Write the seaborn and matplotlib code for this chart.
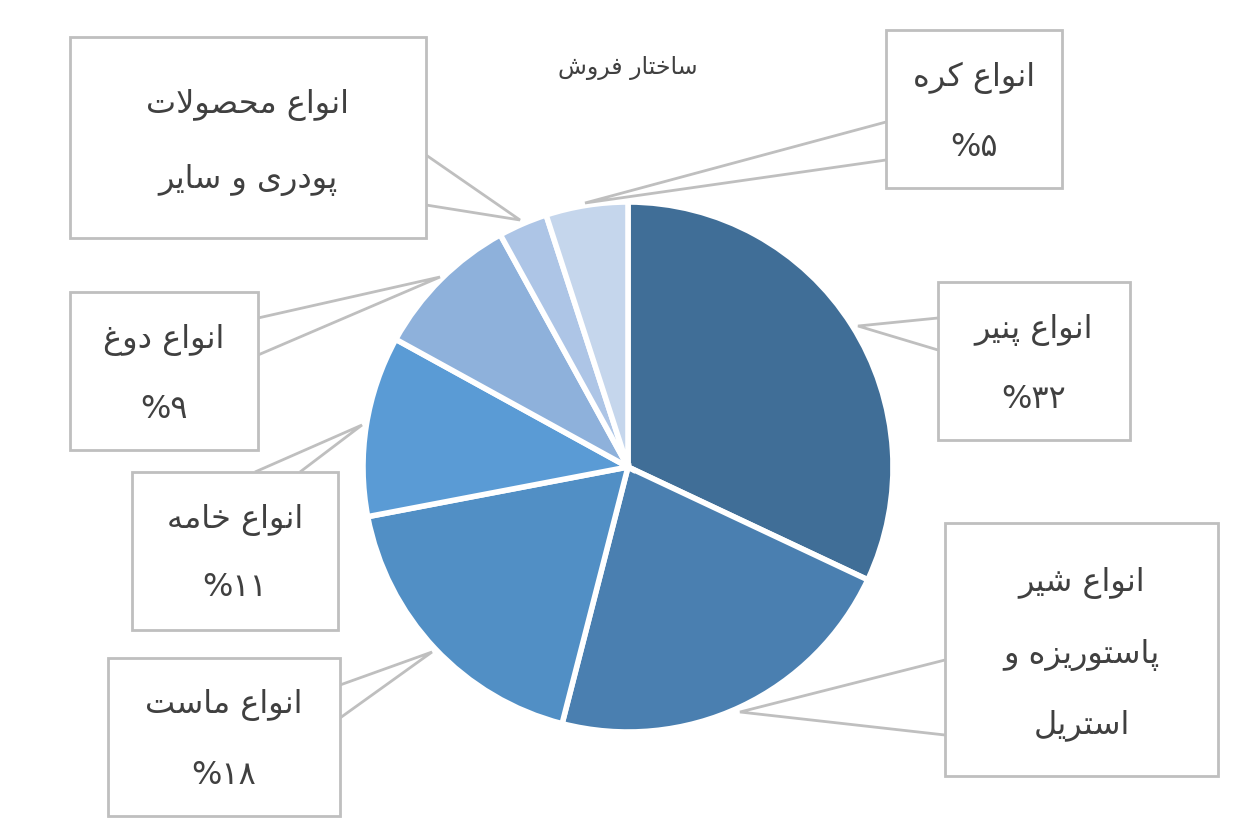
import matplotlib
matplotlib.use("Agg")
import matplotlib.pyplot as plt
import seaborn as sns
from matplotlib.patches import Rectangle, Polygon

sns.set_theme(style="white")
plt.rcParams['font.family'] = ['DejaVu Sans']

# ---- data ----
categories = ["انواع پنیر", "انواع شیر پاستوریزه و استریل", "انواع ماست", "انواع خامه",
              "انواع دوغ", "انواع محصولات پودری و سایر", "انواع کره"]
values = [32, 22, 18, 11, 9, 3, 5]
pct_labels = ["%۳۲", None, "%۱۸", "%۱۱", "%۹", None, "%۵"]
title = "ساختار فروش"
colors = ["#406E97", "#4A7FB0", "#518FC5", "#5A9BD5", "#8EB1DB", "#ADC5E6", "#C5D6EC"]

# ---- minimal Arabic/Persian shaping (presentation forms, visual order) ----
FORMS = {
    'ا': (0xFE8D, 0xFE8E, None, None), 'د': (0xFEA9, 0xFEAA, None, None),
    'ر': (0xFEAD, 0xFEAE, None, None), 'ز': (0xFEAF, 0xFEB0, None, None),
    'و': (0xFEED, 0xFEEE, None, None),
    'پ': (0xFB56, 0xFB57, 0xFB58, 0xFB59), 'ت': (0xFE95, 0xFE96, 0xFE97, 0xFE98),
    'خ': (0xFEA5, 0xFEA6, 0xFEA7, 0xFEA8), 'ح': (0xFEA1, 0xFEA2, 0xFEA3, 0xFEA4),
    'س': (0xFEB1, 0xFEB2, 0xFEB3, 0xFEB4), 'ش': (0xFEB5, 0xFEB6, 0xFEB7, 0xFEB8),
    'ص': (0xFEB9, 0xFEBA, 0xFEBB, 0xFEBC), 'ع': (0xFEC9, 0xFECA, 0xFECB, 0xFECC),
    'غ': (0xFECD, 0xFECE, 0xFECF, 0xFED0), 'ف': (0xFED1, 0xFED2, 0xFED3, 0xFED4),
    'ک': (0xFB8E, 0xFB8F, 0xFB90, 0xFB91), 'ل': (0xFEDD, 0xFEDE, 0xFEDF, 0xFEE0),
    'م': (0xFEE1, 0xFEE2, 0xFEE3, 0xFEE4), 'ن': (0xFEE5, 0xFEE6, 0xFEE7, 0xFEE8),
    'ه': (0xFEE9, 0xFEEA, 0xFEEB, 0xFEEC), 'ی': (0xFBFC, 0xFBFD, 0xFBFE, 0xFBFF),
}

def dual(c):
    return c in FORMS and FORMS[c][2] is not None

def shape(s):
    out = []
    i = 0
    n = len(s)
    while i < n:
        c = s[i]
        if c not in FORMS:
            out.append(c); i += 1; continue
        jp = i > 0 and dual(s[i - 1])
        if c == 'ل' and i + 1 < n and s[i + 1] == 'ا':
            out.append(chr(0xFEFC if jp else 0xFEFB)); i += 2; continue
        jn = dual(c) and i + 1 < n and s[i + 1] in FORMS
        f = FORMS[c]
        if jp and jn:
            out.append(chr(f[3]))
        elif jp:
            out.append(chr(f[1]))
        elif jn:
            out.append(chr(f[2]))
        else:
            out.append(chr(f[0]))
        i += 1
    return ''.join(out)[::-1]

# ---- figure ----
W, H = 1254, 832
fig = plt.figure(figsize=(W / 100, H / 100), dpi=100)
ax = fig.add_axes([0, 0, 1, 1])
ax.set_xlim(0, W)
ax.set_ylim(H, 0)
ax.axis("off")

# pie (y flipped so draw counterclock=True for clockwise visual)
ax.pie(values, colors=colors, startangle=-90, counterclock=True, center=(628, 467),
       radius=265, wedgeprops=dict(edgecolor="white", linewidth=4), frame=True)
ax.set_xlim(0, W)
ax.set_ylim(H, 0)
ax.axis("off")

gray = "#BFBFBF"
boxes = [  # x0, y0, x1, y1, line ys, pointer polygon
    (938, 282, 1130, 440, [330, 400], [(938, 318), (858, 326), (938, 350)]),
    (945, 523, 1218, 776, [583, 655, 725], [(945, 660), (740, 712), (945, 735)]),
    (108, 658, 340, 816, [705, 775], [(340, 685), (432, 652), (340, 718)]),
    (132, 472, 338, 630, [520, 588], [(255, 472), (362, 425), (300, 472)]),
    (70, 292, 258, 450, [340, 410], [(258, 318), (440, 277), (258, 355)]),
    (70, 37, 426, 238, [105, 180], [(426, 155), (520, 220), (426, 205)]),
    (886, 30, 1062, 188, [78, 148], [(886, 122), (585, 203), (886, 160)]),
]
lines_text = [
    ["انواع پنیر"], ["انواع شیر", "پاستوریزه و", "استریل"], ["انواع ماست"], ["انواع خامه"],
    ["انواع دوغ"], ["انواع محصولات", "پودری و سایر"], ["انواع کره"],
]
for (x0, y0, x1, y1, ys, poly), lt, pl in zip(boxes, lines_text, pct_labels):
    ax.add_patch(Polygon(poly, closed=False, fill=False, edgecolor=gray, lw=2, zorder=3))
    ax.add_patch(Rectangle((x0, y0), x1 - x0, y1 - y0, facecolor="white",
                           edgecolor=gray, lw=2, zorder=4))
    texts = [shape(t) for t in lt] + ([pl] if pl else [])
    cx = (x0 + x1) / 2
    for t, y in zip(texts, ys):
        ax.text(cx, y, t, ha="center", va="center", fontsize=23, color="#404040", zorder=5)

ax.text(628, 68, shape(title), ha="center", va="center", fontsize=17, color="#404040")

fig.savefig("out.png", dpi=100)
